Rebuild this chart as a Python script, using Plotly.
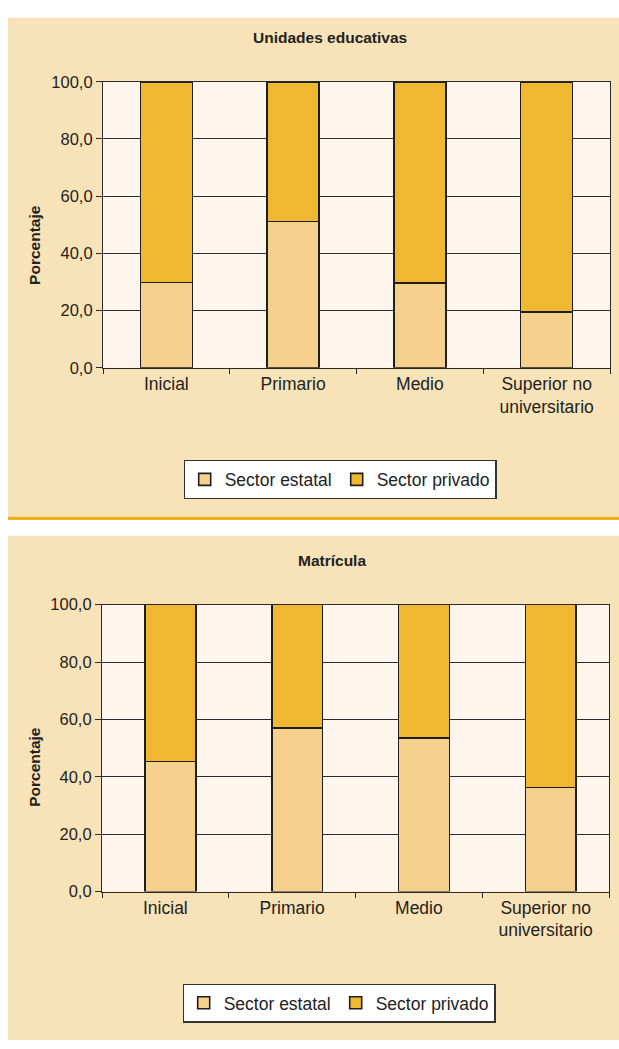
import plotly.graph_objects as go

W, H = 619, 1049

categories = ["Inicial", "Primario", "Medio", "Superior no<br>universitario"]
unidades_estatal = [29.8, 51.2, 29.7, 19.4]
unidades_privado = [70.2, 48.8, 70.3, 80.6]
matricula_estatal = [45.3, 56.9, 53.5, 36.3]
matricula_privado = [54.7, 43.1, 46.5, 63.7]
y_tickvals = [0, 20, 40, 60, 80, 100]
y_ticktext = ["0,0", "20,0", "40,0", "60,0", "80,0", "100,0"]
series_names = ["Sector estatal", "Sector privado"]
titles = ["Unidades educativas", "Matrícula"]

C_EST = "#F6D18E"
C_PRI = "#F0B730"
C_PANEL = "#F8E2B8"
C_PLOT = "#FEF6EC"
C_GOLD = "#EEB120"
C_LINE = "#2a2a2a"
FONT = "Liberation Sans, Arial, sans-serif"

def py(px):
    return 1 - px / H

def pxx(px):
    return px / W

fig = go.Figure()

line = dict(color="#1e1e1e", width=1.6)
# top panel
fig.add_trace(go.Bar(x=categories, y=unidades_estatal, name=series_names[0], marker=dict(color=C_EST, line=line),
                     width=0.41, xaxis="x", yaxis="y", legend="legend"))
fig.add_trace(go.Bar(x=categories, y=unidades_privado, name=series_names[1], marker=dict(color=C_PRI, line=line),
                     width=0.41, xaxis="x", yaxis="y", legend="legend"))
# bottom panel
fig.add_trace(go.Bar(x=categories, y=matricula_estatal, name=series_names[0], marker=dict(color=C_EST, line=line),
                     width=0.40, offset=-0.16, xaxis="x2", yaxis="y2", legend="legend2"))
fig.add_trace(go.Bar(x=categories, y=matricula_privado, name=series_names[1], marker=dict(color=C_PRI, line=line),
                     width=0.40, offset=-0.16, xaxis="x2", yaxis="y2", legend="legend2"))

xa = dict(type="category", showline=True, linecolor=C_LINE, linewidth=1.2, mirror=True,
          ticks="outside", tickson="boundaries", ticklen=5, tickcolor=C_LINE, tickwidth=1.2,
          showgrid=False, tickfont=dict(family=FONT, size=17.5, color="#222"), fixedrange=True)
ya = dict(range=[0, 100], tickvals=y_tickvals, ticktext=y_ticktext, showline=True, linecolor=C_LINE,
          linewidth=1.2, mirror=True, ticks="outside", ticklen=6, tickcolor=C_LINE, tickwidth=1.2,
          showgrid=True, gridcolor=C_LINE, gridwidth=1.1, zeroline=False,
          tickfont=dict(family=FONT, size=16.5, color="#222"), fixedrange=True)

leg = dict(orientation="h", xanchor="center", yanchor="middle", bgcolor="white",
           bordercolor="#333", borderwidth=1.2, font=dict(family=FONT, size=17.5, color="#222"),
           traceorder="normal")

fig.update_layout(
    width=W, height=H, margin=dict(l=0, r=0, t=0, b=0),
    paper_bgcolor="white", plot_bgcolor=C_PLOT,
    barmode="stack", showlegend=True,
    xaxis=dict(xa, domain=[pxx(103), pxx(610)], anchor="y"),
    yaxis=dict(ya, domain=[py(365), py(74)], anchor="x"),
    xaxis2=dict(xa, domain=[pxx(102), pxx(609)], anchor="y2"),
    yaxis2=dict(ya, domain=[py(898), py(606)], anchor="x2"),
    legend=dict(leg, x=pxx(340), y=py(479)),
    legend2=dict(leg, x=pxx(339), y=py(1011.5)),
    shapes=[
        dict(type="rect", xref="paper", yref="paper", x0=pxx(8), x1=1, y0=py(516.5), y1=py(9),
             fillcolor=C_PANEL, line=dict(width=0), layer="below"),
        dict(type="rect", xref="paper", yref="paper", x0=pxx(8), x1=1, y0=py(520), y1=py(516.5),
             fillcolor=C_GOLD, line=dict(width=0), layer="below"),
        dict(type="rect", xref="paper", yref="paper", x0=pxx(8), x1=1, y0=0, y1=py(536),
             fillcolor=C_PANEL, line=dict(width=0), layer="below"),
        dict(type="rect", xref="x domain", yref="y domain", x0=0, x1=1, y0=0, y1=1,
             fillcolor=C_PLOT, line=dict(width=0), layer="below"),
        dict(type="rect", xref="x2 domain", yref="y2 domain", x0=0, x1=1, y0=0, y1=1,
             fillcolor=C_PLOT, line=dict(width=0), layer="below"),
    ],
    annotations=[
        dict(text="<b>" + titles[0] + "</b>", x=pxx(330), y=py(29), xref="paper", yref="paper",
             showarrow=False, xanchor="center", yanchor="middle", font=dict(family=FONT, size=15.5, color="#222")),
        dict(text="<b>" + titles[1] + "</b>", x=pxx(332), y=py(561), xref="paper", yref="paper",
             showarrow=False, xanchor="center", yanchor="middle", font=dict(family=FONT, size=15.5, color="#222")),
        dict(text="<b>Porcentaje</b>", x=pxx(35), y=py(240), xref="paper", yref="paper", textangle=-90,
             showarrow=False, xanchor="center", yanchor="middle", font=dict(family=FONT, size=15.5, color="#222")),
        dict(text="<b>Porcentaje</b>", x=pxx(35), y=py(771), xref="paper", yref="paper", textangle=-90,
             showarrow=False, xanchor="center", yanchor="middle", font=dict(family=FONT, size=15.5, color="#222")),
    ],
)

post = ("document.documentElement.style.margin='0';document.documentElement.style.overflow='hidden';"
        "document.body.style.margin='0';document.body.style.padding='0';document.body.style.overflow='hidden';"
        "var gd=document.getElementById('{plot_id}');gd.style.position='absolute';"
        "gd.style.left='0px';gd.style.top='0px';")
fig.write_html("out.html", config={"displayModeBar": False}, post_script=post)
